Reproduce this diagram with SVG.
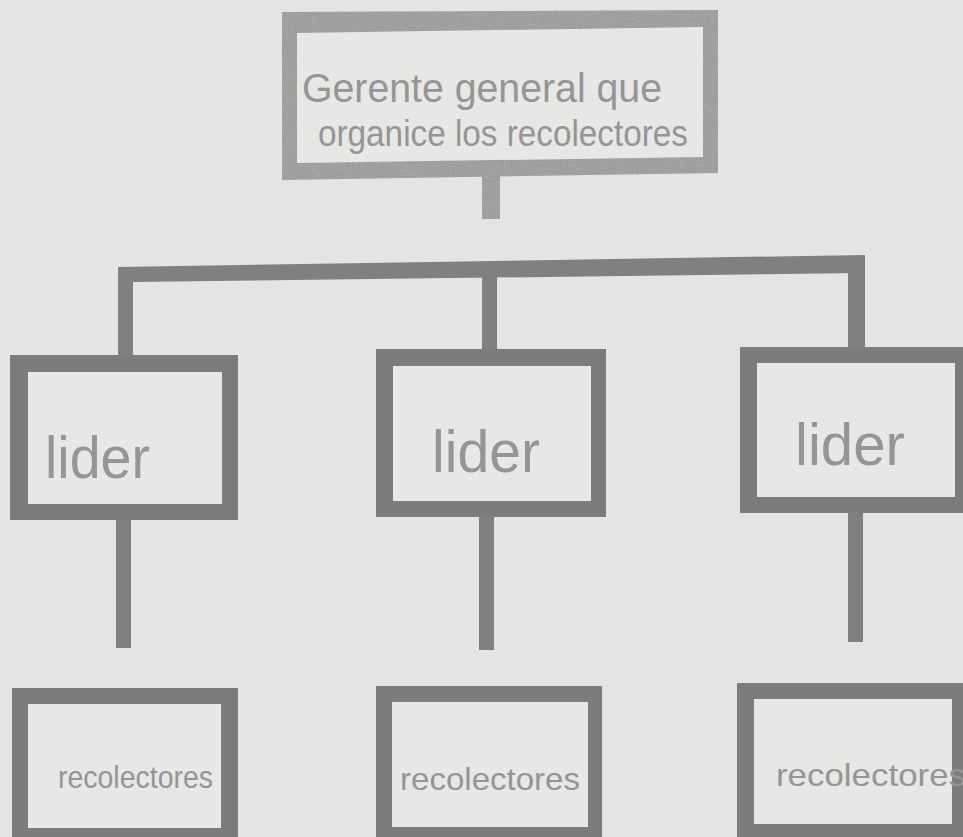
<svg xmlns="http://www.w3.org/2000/svg" width="963" height="837" viewBox="0 0 963 837">
<defs>
<style>
.bg{fill:#e4e4e2}
.frame{fill:#7c7c7c}
.frame2{fill:#9a9a98}
.inner{fill:#e7e7e5}
.conn{fill:#808080}
.hand{font-family:"Liberation Sans","DejaVu Sans",sans-serif;fill:#959595;font-weight:normal}
</style>
<filter id="grain" x="0" y="0" width="100%" height="100%">
<feTurbulence type="fractalNoise" baseFrequency="0.9" numOctaves="2" seed="3" result="n"/>
<feColorMatrix in="n" type="saturate" values="0" result="g"/>
<feComponentTransfer in="g" result="g2"><feFuncA type="table" tableValues="0 0.35"/></feComponentTransfer>
<feComposite in="g2" in2="SourceGraphic" operator="in" result="m"/>
<feMerge><feMergeNode in="SourceGraphic"/><feMergeNode in="m"/></feMerge>
</filter>
</defs>
<rect class="bg" x="0" y="0" width="963" height="837"/>

<g id="connectors">
<rect class="frame2" x="482" y="176" width="18" height="43" filter="url(#grain)"/>
<polygon class="conn" points="118,267 865,255 865,273 133,282 133,356 118,356"/>
<rect class="conn" x="482" y="262" width="15" height="88"/>
<rect class="conn" x="848" y="258" width="17" height="90"/>
<rect class="conn" x="116" y="518" width="15" height="130"/>
<rect class="conn" x="479" y="515" width="15" height="135"/>
<rect class="conn" x="848" y="511" width="15" height="131"/>
</g>

<g id="gerente">
<polygon class="frame2" points="282,12 718,10 718,173 282,180" filter="url(#grain)"/>
<polygon class="inner" points="297,33 703,27 703,157 297,163"/>
<text class="hand" x="302" y="102" font-size="40" textLength="360" lengthAdjust="spacingAndGlyphs">Gerente general que</text>
<text class="hand" x="318" y="146" font-size="36" textLength="370" lengthAdjust="spacingAndGlyphs">organice los recolectores</text>
</g>

<g id="lider1">
<rect class="frame" x="10" y="355" width="228" height="165"/>
<rect class="inner" x="28" y="372" width="194" height="132"/>
<text class="hand" x="45" y="478" font-size="60" textLength="105" lengthAdjust="spacingAndGlyphs">lider</text>
</g>

<g id="lider2">
<rect class="frame" x="376" y="349" width="230" height="168"/>
<rect class="inner" x="393" y="366" width="198" height="135"/>
<text class="hand" x="432" y="472" font-size="60" textLength="108" lengthAdjust="spacingAndGlyphs">lider</text>
</g>

<g id="lider3">
<rect class="frame" x="740" y="347" width="230" height="166"/>
<rect class="inner" x="757" y="363" width="198" height="134"/>
<text class="hand" x="795" y="465" font-size="60" textLength="110" lengthAdjust="spacingAndGlyphs">lider</text>
</g>

<g id="recolectores1">
<rect class="frame" x="12" y="688" width="226" height="160"/>
<rect class="inner" x="28" y="704" width="193" height="124"/>
<text class="hand" x="58" y="788" font-size="32" textLength="155" lengthAdjust="spacingAndGlyphs">recolectores</text>
</g>

<g id="recolectores2">
<rect class="frame" x="376" y="686" width="226" height="160"/>
<rect class="inner" x="392" y="702" width="196" height="125"/>
<text class="hand" x="400" y="790" font-size="32" textLength="180" lengthAdjust="spacingAndGlyphs">recolectores</text>
</g>

<g id="recolectores3">
<rect class="frame" x="737" y="683" width="240" height="165"/>
<rect class="inner" x="754" y="699" width="198" height="125"/>
<text class="hand" x="776" y="786" font-size="32" textLength="190" lengthAdjust="spacingAndGlyphs">recolectores</text>
</g>
</svg>
